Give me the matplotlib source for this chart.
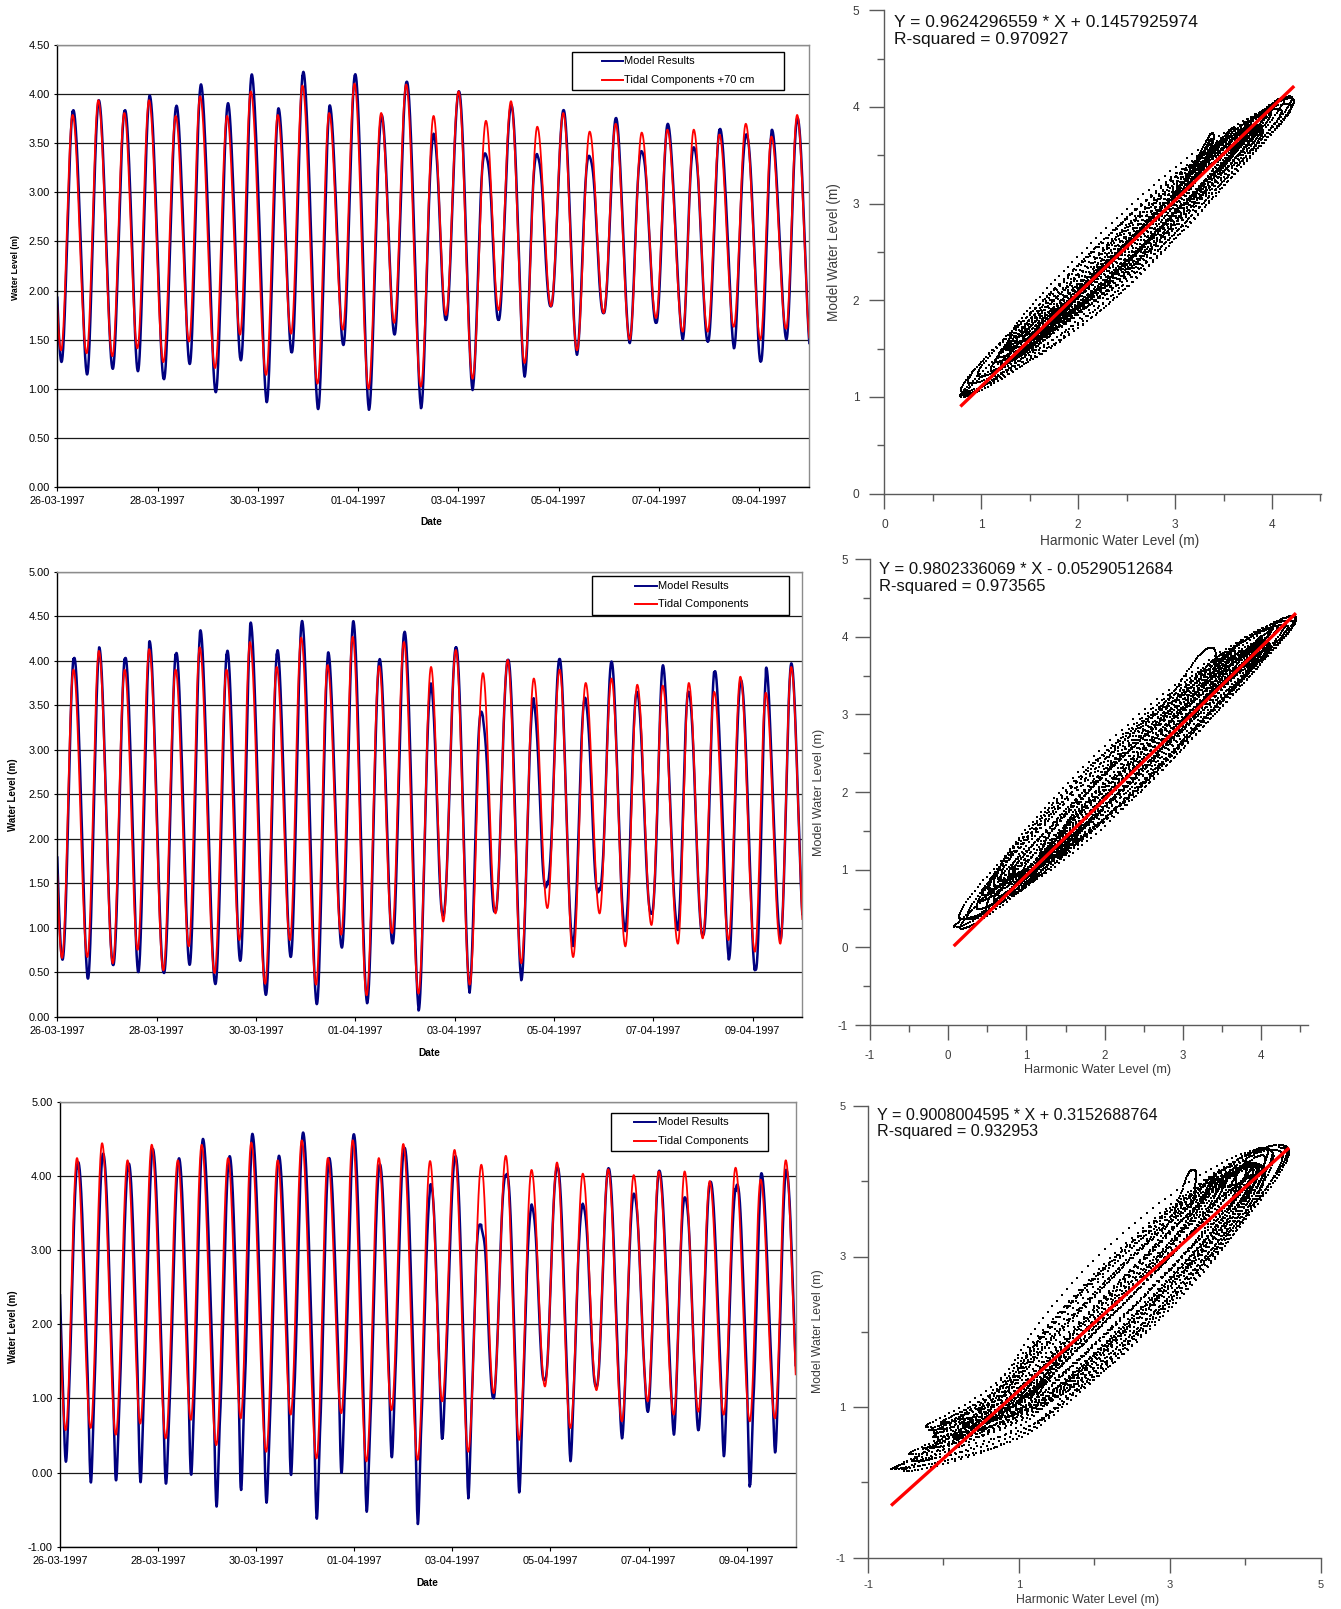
import numpy as np
import matplotlib
matplotlib.use("Agg")
import matplotlib.pyplot as plt
import matplotlib.dates as mdates
from matplotlib.lines import Line2D
from matplotlib.patches import Rectangle
from matplotlib.ticker import MultipleLocator, FixedLocator, FormatStrFormatter

plt.rcParams['font.family'] = ['Liberation Sans', 'DejaVu Sans']

FIG_W, FIG_H = 1341, 1609
START = np.datetime64('1997-03-26T00:00')
DATE_TICKS = ['1997-03-26', '1997-03-28', '1997-03-30', '1997-04-01',
              '1997-04-03', '1997-04-05', '1997-04-07', '1997-04-09']

# Turning points of the tide, in days after 26-03-1997 00:00
HW_TIMES = [-0.19, 0.306, 0.818, 1.337, 1.830, 2.362, 2.848, 3.387, 3.859, 4.398,
            4.890, 5.422, 5.928, 6.460, 6.959, 7.505, 8.004, 8.550, 9.049, 9.574,
            10.093, 10.619, 11.138, 11.657, 12.169, 12.695, 13.207, 13.733, 14.245, 14.757]
LW_TIMES = [0.075, 0.585, 1.098, 1.597, 2.116, 2.628, 3.147, 3.646, 4.165, 4.664,
            5.190, 5.695, 6.208, 6.720, 7.252, 7.751, 8.283, 8.802, 9.321, 9.847,
            10.366, 10.898, 11.417, 11.943, 12.475, 12.974, 13.493, 14.025, 14.537, 15.03]

# Station 1 (tidal components shifted +70 cm)
S1_TIDE_HW = [3.80, 3.79, 3.94, 3.81, 3.94, 3.78, 3.98, 3.78, 4.03, 3.79, 4.09, 3.81, 4.11, 3.81, 4.10,
              3.78, 4.03, 3.73, 3.93, 3.67, 3.81, 3.62, 3.70, 3.61, 3.64, 3.64, 3.59, 3.70, 3.57, 3.79]
S1_MODEL_HW = [3.85, 3.84, 3.94, 3.84, 3.99, 3.89, 4.11, 3.92, 4.22, 3.86, 4.24, 3.89, 4.21, 3.79, 4.13,
               3.60, 4.03, 3.39, 3.89, 3.39, 3.84, 3.37, 3.76, 3.42, 3.70, 3.46, 3.65, 3.59, 3.64, 3.76]
S1_TIDE_LW = [1.39, 1.36, 1.33, 1.41, 1.27, 1.48, 1.21, 1.55, 1.14, 1.56, 1.05, 1.60, 1.00, 1.67, 1.02,
              1.75, 1.10, 1.80, 1.26, 1.84, 1.39, 1.77, 1.50, 1.72, 1.58, 1.58, 1.63, 1.50, 1.61, 1.45]
S1_MODEL_LW = [1.27, 1.14, 1.20, 1.17, 1.09, 1.24, 0.95, 1.27, 0.85, 1.36, 0.78, 1.44, 0.78, 1.55, 0.80,
               1.70, 0.98, 1.70, 1.12, 1.84, 1.34, 1.77, 1.46, 1.67, 1.50, 1.48, 1.41, 1.27, 1.50, 1.35]

# Station 2
S2_TIDE_HW = [3.95, 3.90, 4.11, 3.90, 4.13, 3.90, 4.15, 3.90, 4.21, 3.93, 4.26, 3.95, 4.27, 3.94, 4.21,
              3.93, 4.12, 3.86, 4.01, 3.80, 3.90, 3.75, 3.80, 3.73, 3.72, 3.75, 3.65, 3.82, 3.64, 3.93]
S2_MODEL_HW = [4.10, 4.04, 4.15, 4.04, 4.22, 4.10, 4.35, 4.13, 4.44, 4.13, 4.46, 4.10, 4.45, 4.02, 4.33,
               3.75, 4.15, 3.39, 4.01, 3.58, 4.02, 3.58, 3.99, 3.65, 3.95, 3.65, 3.90, 3.78, 3.93, 3.97]
S2_TIDE_LW = [0.66, 0.67, 0.60, 0.75, 0.52, 0.79, 0.49, 0.86, 0.37, 0.86, 0.36, 0.92, 0.24, 0.94, 0.26,
              1.07, 0.36, 1.16, 0.60, 1.22, 0.67, 1.16, 0.79, 1.03, 0.82, 0.88, 0.86, 0.73, 0.82, 0.85]
S2_MODEL_LW = [0.64, 0.42, 0.58, 0.49, 0.49, 0.57, 0.36, 0.61, 0.24, 0.66, 0.13, 0.77, 0.15, 0.82, 0.07,
               1.14, 0.26, 1.18, 0.41, 1.48, 0.79, 1.42, 0.96, 1.16, 0.97, 0.92, 0.64, 0.51, 0.86, 0.90]

# Station 3
S3_TIDE_HW = [4.30, 4.24, 4.44, 4.21, 4.42, 4.21, 4.42, 4.24, 4.45, 4.21, 4.48, 4.24, 4.48, 4.24, 4.43,
              4.20, 4.35, 4.15, 4.27, 4.08, 4.18, 4.03, 4.09, 4.01, 4.06, 4.06, 3.93, 4.11, 3.95, 4.21]
S3_MODEL_HW = [4.30, 4.18, 4.29, 4.16, 4.36, 4.24, 4.51, 4.27, 4.58, 4.28, 4.60, 4.24, 4.57, 4.15, 4.37,
               3.88, 4.26, 3.34, 4.01, 3.63, 4.11, 3.63, 4.10, 3.76, 4.07, 3.71, 3.92, 3.85, 4.04, 4.08]
S3_TIDE_LW = [0.57, 0.60, 0.51, 0.66, 0.46, 0.71, 0.37, 0.73, 0.28, 0.78, 0.19, 0.80, 0.15, 0.84, 0.17,
              0.96, 0.28, 1.07, 0.44, 1.16, 0.60, 1.11, 0.69, 0.96, 0.78, 0.82, 0.78, 0.69, 0.73, 0.80]
S3_MODEL_LW = [0.13, -0.17, -0.14, -0.19, -0.19, -0.10, -0.53, -0.37, -0.46, -0.12, -0.69, -0.08, -0.57,
               0.17, -0.73, 0.44, -0.35, 1.00, -0.28, 1.25, 0.15, 1.16, 0.46, 0.82, 0.51, 0.57, 0.21,
               -0.24, 0.26, 0.50]

# Regression results printed on the scatter plots
FIT_SLOPE = [0.9624296559, 0.9802336069, 0.9008004595]
FIT_INTERCEPT = [0.1457925974, -0.05290512684, 0.3152688764]
FIT_TEXT = ["Y = 0.9624296559 * X + 0.1457925974\nR-squared = 0.970927",
            "Y = 0.9802336069 * X - 0.05290512684\nR-squared = 0.973565",
            "Y = 0.9008004595 * X + 0.3152688764\nR-squared = 0.932953"]
LEGEND_TIDE = ["Tidal Components +70 cm", "Tidal Components", "Tidal Components"]

STATION_SHIFT = [0.0, 0.02, 0.04]      # timing offset of each station (days)
BASE_LAG = [0.003, 0.003, 0.004]        # mean model phase lag (days)
LAG_GAIN = [0.047, 0.045, 0.026]        # extra lag per metre of half-tide range excess (days/m)
HW_WIDTH = [0.12, 0.12, 0.12]
LW_WIDTH = [0.12, 0.12, 0.07]

STATIONS = [
    (S1_TIDE_HW, S1_MODEL_HW, S1_TIDE_LW, S1_MODEL_LW),
    (S2_TIDE_HW, S2_MODEL_HW, S2_TIDE_LW, S2_MODEL_LW),
    (S3_TIDE_HW, S3_MODEL_HW, S3_TIDE_LW, S3_MODEL_LW),
]

STEP = 1.0 / 360.0   # 4 minute output interval
t = np.arange(0.0, 15.0 + 1e-9, STEP)


def interleave(hw, lw):
    out = []
    for a, b in zip(hw, lw):
        out += [a, b]
    return np.array(out, dtype=float)


def interval_index(tt, times):
    return np.clip(np.searchsorted(times, tt, side='right') - 1, 0, len(times) - 2)


def tide_curve(tt, times, levels):
    """Half-cosine curve through successive high and low waters."""
    idx = interval_index(tt, times)
    t0, t1 = times[idx], times[idx + 1]
    z0, z1 = levels[idx], levels[idx + 1]
    f = (tt - t0) / (t1 - t0)
    return z0 + (z1 - z0) * (1 - np.cos(np.pi * f)) / 2


def window(u, w):
    return np.where(np.abs(u) < w, np.cos(np.pi * u / (2 * w)) ** 2, 0.0)


series = []
for i, (thw, mhw, tlw, mlw) in enumerate(STATIONS):
    times = interleave(HW_TIMES, LW_TIMES) + STATION_SHIFT[i]
    tide_lv = interleave(thw, tlw)
    model_lv = interleave(mhw, mlw)
    widths = interleave([HW_WIDTH[i]] * len(thw), [LW_WIDTH[i]] * len(tlw))
    tide = tide_curve(t, times, tide_lv)

    # model lags more on half-tides where its range exceeds the harmonic range
    range_excess = np.abs(np.diff(model_lv)) - np.abs(np.diff(tide_lv))
    lag = BASE_LAG[i] + LAG_GAIN[i] * range_excess
    model = tide_curve(t - lag[interval_index(t, times)], times, tide_lv)
    for tk, dz, wk in zip(times, model_lv - tide_lv, widths):
        model = model + dz * window(t - tk, wk)
    series.append((tide, model))

dates = START + np.round(t * 86400).astype('timedelta64[s]')

fig = plt.figure(figsize=(FIG_W / 100, FIG_H / 100), dpi=100)


def rect(left, top, right, bottom):
    return [left / FIG_W, 1 - bottom / FIG_H, (right - left) / FIG_W, (bottom - top) / FIG_H]


def fxy(px, py):
    return px / FIG_W, 1 - py / FIG_H


# ---------------- time series panels ----------------
TS_BOXES = [(57.3, 45.3, 809.3, 486.7), (57.3, 571.7, 802.3, 1016.7), (60.0, 1101.7, 795.7, 1546.7)]
TS_YLIM = [(0, 4.5), (0, 5.0), (-1.0, 5.0)]
TS_YSTEP = [0.5, 0.5, 1.0]
TS_YLABEL_POS = [(15, 268), (13, 795), (13, 1327)]
TS_YLABEL_SIZE = [6.3, 7.0, 7.0]
TS_DATE_POS = [(431, 522), (429, 1053), (427, 1583)]
LEGEND_BOX = [(571.7, 52.3, 784.3, 90.3), (592.3, 575.5, 789.0, 614.5), (611.0, 1112.7, 768.3, 1151.0)]
LEGEND_KEY_X = [(601.7, 623.0), (635.0, 656.5), (634.3, 656.0)]
LEGEND_ROWS = [(61.0, 80.0), (585.7, 604.0), (1122.0, 1140.7)]

tick_dates = np.array(DATE_TICKS, dtype='datetime64[D]')

for i in range(3):
    tide, model = series[i]
    ax = fig.add_axes(rect(*TS_BOXES[i]))
    ax.plot(dates, model, color='#000080', lw=1.8, solid_joinstyle='round')
    ax.plot(dates, tide, color='#ff0000', lw=1.3, solid_joinstyle='round')
    ax.set_xlim(START, START + np.timedelta64(15, 'D'))
    ax.set_ylim(*TS_YLIM[i])
    ax.yaxis.set_major_locator(MultipleLocator(TS_YSTEP[i]))
    ax.yaxis.set_major_formatter(FormatStrFormatter('%.2f'))
    ax.set_xticks(tick_dates)
    ax.xaxis.set_major_formatter(mdates.DateFormatter('%d-%m-%Y'))
    ax.yaxis.grid(True, color='#1a1a1a', lw=0.9)
    ax.set_axisbelow(True)
    for s in ('top', 'right'):
        ax.spines[s].set_color('#8c8c8c')
        ax.spines[s].set_linewidth(1.0)
    for s in ('left', 'bottom'):
        ax.spines[s].set_color('#000000')
        ax.spines[s].set_linewidth(1.0)
    ax.tick_params(axis='x', direction='out', length=3, width=0.8, pad=3.5, labelsize=7.8, colors='#000000')
    ax.tick_params(axis='y', direction='out', length=2.2, width=0.8, pad=3.2, labelsize=7.9, colors='#000000')

    x, y = fxy(*TS_YLABEL_POS[i])
    fig.text(x, y, "Water Level (m)", rotation=90, ha='center', va='center',
             fontsize=TS_YLABEL_SIZE[i], fontweight='bold')
    x, y = fxy(*TS_DATE_POS[i])
    fig.text(x, y, "Date", ha='center', va='center', fontsize=7.3, fontweight='bold')

    # legend box
    l, tp, r, b = LEGEND_BOX[i]
    x0, y0 = fxy(l, b)
    x1, y1 = fxy(r, tp)
    fig.add_artist(Rectangle((x0, y0), x1 - x0, y1 - y0, transform=fig.transFigure,
                             facecolor='white', edgecolor='#000000', lw=1.0))
    kx0, kx1 = LEGEND_KEY_X[i]
    for row_y, col, label in zip(LEGEND_ROWS[i], ('#000080', '#ff0000'),
                                 ("Model Results", LEGEND_TIDE[i])):
        a0, yy = fxy(kx0, row_y)
        a1, _ = fxy(kx1, row_y)
        fig.add_artist(Line2D([a0, a1], [yy, yy], transform=fig.transFigure, color=col, lw=1.4))
        tx, _ = fxy(kx1 + 1.5, row_y)
        fig.text(tx, yy, label, ha='left', va='center', fontsize=8.0)

# ---------------- scatter panels ----------------
SC_BOXES = [(884.4, 10.3, 1321.4, 493.5), (870.0, 559.2, 1308.0, 1025.0), (868.0, 1106.0, 1320.5, 1557.5)]
SC_XLIM = [(0.0, 4.51), (-1.0, 4.6), (-1.0, 5.0)]
SC_YLIM = [(0.0, 5.0), (-1.0, 5.0), (-1.0, 5.0)]
SC_MAJOR = [1.0, 1.0, 2.0]
SC_TEXT_POS = [(893.6, 31.2), (879, 577.8), (877, 1123.4)]
SC_TEXT_SIZE = [12.6, 12.0, 11.6]
SC_XLABEL_POS = [(1120, 541), (1098, 1070), (1088, 1600)]
SC_YLABEL_POS = [(834, 252), (819, 792), (818, 1331)]
SC_LABEL_SIZE = [9.8, 9.1, 8.8]
SC_TICK_SIZE = [8.6, 8.3, 8.0]
SC_XPAD = [7, 7, 5]
SC_YPAD = [7, 5, 5]

for i in range(3):
    tide, model = series[i]
    ax = fig.add_axes(rect(*SC_BOXES[i]))
    ax.plot(model, tide, 's', ms=1.6, mew=0, color='#000000')
    xs = np.array([model.min(), model.max()])
    ax.plot(xs, FIT_SLOPE[i] * xs + FIT_INTERCEPT[i], color='#ff0000', lw=2.4,
            solid_capstyle='butt')
    ax.set_xlim(*SC_XLIM[i])
    ax.set_ylim(*SC_YLIM[i])
    lo = SC_XLIM[i][0]
    ax.xaxis.set_major_locator(FixedLocator(np.arange(lo, 5.01, SC_MAJOR[i])))
    ax.xaxis.set_minor_locator(FixedLocator(np.arange(lo, 5.01, SC_MAJOR[i] / 2)))
    ax.yaxis.set_major_locator(FixedLocator(np.arange(SC_YLIM[i][0], 5.01, SC_MAJOR[i])))
    ax.yaxis.set_minor_locator(FixedLocator(np.arange(SC_YLIM[i][0], 5.01, SC_MAJOR[i] / 2)))
    ax.xaxis.set_major_formatter(FormatStrFormatter('%g'))
    ax.yaxis.set_major_formatter(FormatStrFormatter('%g'))
    for s in ('top', 'right'):
        ax.spines[s].set_visible(False)
    for s in ('left', 'bottom'):
        ax.spines[s].set_color('#5a5a5a')
        ax.spines[s].set_linewidth(1.0)
    ax.tick_params(which='major', direction='out', length=11, width=1.0, color='#5a5a5a',
                   labelsize=SC_TICK_SIZE[i], labelcolor='#3c3c3c')
    ax.tick_params(which='minor', direction='out', length=5, width=1.0, color='#5a5a5a')
    ax.tick_params(axis='x', which='major', pad=SC_XPAD[i])
    ax.tick_params(axis='y', which='major', pad=SC_YPAD[i])

    x, y = fxy(*SC_TEXT_POS[i])
    fig.text(x, y, FIT_TEXT[i], ha='left', va='center', fontsize=SC_TEXT_SIZE[i],
             linespacing=1.12, color='#111111')
    x, y = fxy(*SC_XLABEL_POS[i])
    fig.text(x, y, "Harmonic Water Level (m)", ha='center', va='center',
             fontsize=SC_LABEL_SIZE[i], color='#3c3c3c')
    x, y = fxy(*SC_YLABEL_POS[i])
    fig.text(x, y, "Model Water Level (m)", ha='center', va='center', rotation=90,
             fontsize=SC_LABEL_SIZE[i], color='#3c3c3c')

fig.savefig("out.png", dpi=100, facecolor='white')
